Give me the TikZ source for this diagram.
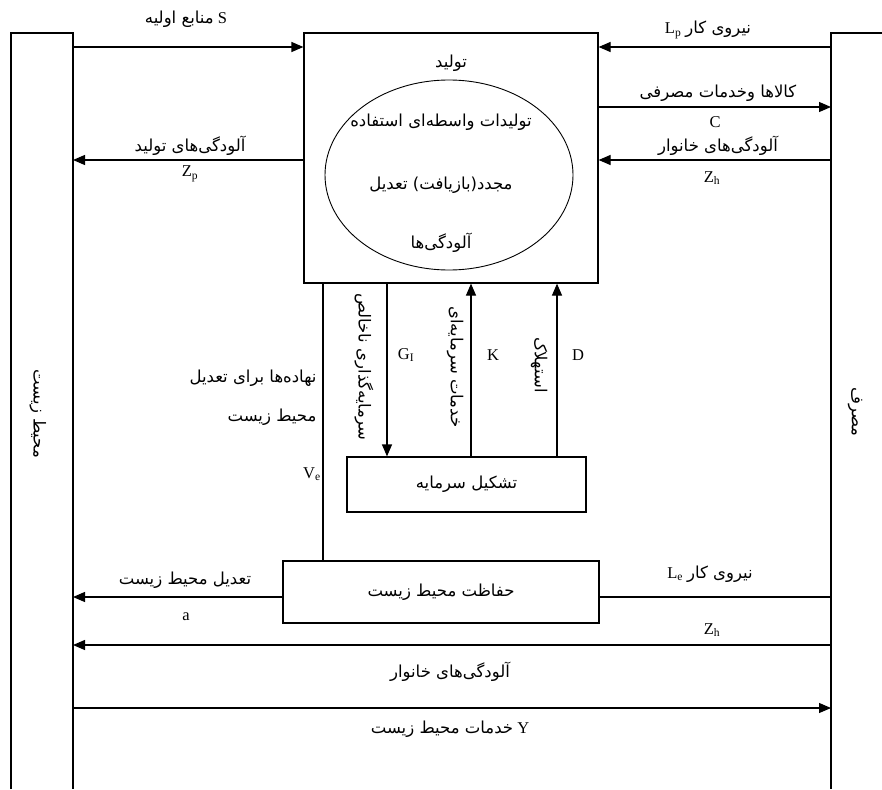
\documentclass[tikz,border=0pt]{standalone}
\usepackage{fontspec}
\setmainfont{Liberation Serif}
\newfontfamily\arfont[Script=Arabic]{DejaVu Sans}
\TeXXeTstate=1
\usetikzlibrary{arrows.meta,shapes.geometric}
\newcommand\fatext[1]{{\arfont\fontsize{16.5}{18}\selectfont\beginR #1\endR}}
\begin{document}
\begin{tikzpicture}[x=1pt,y=-1pt,line width=1.2pt,
  arr/.style={-{Triangle[length=12pt,width=10pt]}},
  lbl/.style={font=\fontsize{16.5}{18}\selectfont,inner sep=0pt},
  box/.style={draw,inner sep=0pt,font=\fontsize{16.5}{18}\selectfont}]
\useasboundingbox (0,0) rectangle (882,789);
% side columns
\coordinate (L) at (73,0);
\coordinate (R) at (831,0);
\draw (11,789) -- (11,33) -- (73,33) -- (73,789);
\draw (882,33) -- (831,33) -- (831,789);
\node[lbl,rotate=-90] (envT) at (38,414) {\fatext{محیط زیست}};
\node[lbl,rotate=-90] (consT) at (855,412) {\fatext{مصرف}};
% production
\node[box,minimum width=294pt,minimum height=250pt] (prod) at (451,158) {};
\node[lbl] (prodT) at (451,63) {\fatext{تولید}};
\node[draw,ellipse,line width=0.9pt,minimum width=248pt,minimum height=190pt] (ell) at (449,175) {};
\node[lbl] (e1) at (441,122) {\fatext{تولیدات واسطه‌ای استفاده}};
\node[lbl] (e2) at (441,185) {\fatext{مجدد(بازیافت) تعدیل}};
\node[lbl] (e3) at (441,243) {\fatext{آلودگی‌ها}};
% capital formation and protection
\node[box,minimum width=239pt,minimum height=55pt] (cap) at (466.5,484.5) {\fatext{تشکیل سرمایه}};
\node[box,minimum width=316pt,minimum height=62pt] (prot) at (441,592) {\fatext{حفاظت محیط زیست}};
% top flows
\draw[arr] (L |- 0,47) -- (prod.west |- 0,47);
\node[lbl] (sT) at (186,19) {\fatext{منابع اولیه}~S};
\draw[arr] (R |- 0,47) -- (prod.east |- 0,47);
\node[lbl] (lpT) at (708,30) {L\textsubscript{p}~\fatext{نیروی کار}};
\draw[arr] (prod.east |- 0,107) -- (R |- 0,107);
\node[lbl] (cT) at (718,93) {\fatext{کالاها وخدمات مصرفی}};
\node[lbl] (cL) at (715,122) {C};
\draw[arr] (R |- 0,160) -- (prod.east |- 0,160);
\node[lbl] (zhT) at (718,146) {\fatext{آلودگی‌های خانوار}};
\node[lbl] (zhL) at (712,178) {Z\textsubscript{h}};
\draw[arr] (prod.west |- 0,160) -- (L |- 0,160);
\node[lbl] (zpT) at (190,146) {\fatext{آلودگی‌های تولید}};
\node[lbl] (zpL) at (190,174) {Z\textsubscript{p}};
% middle verticals
\draw (prod.south -| 323,0) -- (prot.north -| 323,0);
\node[lbl] (v1) at (253,378) {\fatext{نهاده‌ها برای تعدیل}};
\node[lbl] (v2) at (272,417) {\fatext{محیط زیست}};
\node[lbl] (vL) at (312,474) {V\textsubscript{e}};
\draw[arr] (prod.south -| 387,0) -- (cap.north -| 387,0);
\node[lbl,rotate=-90] (gT) at (364,367) {\fatext{سرمایه‌گذاری ناخالص}};
\node[lbl] (gL) at (406,355) {G\textsubscript{I}};
\draw[arr] (cap.north -| 471,0) -- (prod.south -| 471,0);
\node[lbl,rotate=-90] (kT) at (455,367) {\fatext{خدمات سرمایه‌ای}};
\node[lbl] (kL) at (493,355) {K};
\draw[arr] (cap.north -| 557,0) -- (prod.south -| 557,0);
\node[lbl,rotate=-90] (dT) at (539,365) {\fatext{استهلاک}};
\node[lbl] (dL) at (578,355) {D};
% bottom flows
\draw[arr] (prot.west |- 0,597) -- (L |- 0,597);
\node[lbl] (aT) at (185,580) {\fatext{تعدیل محیط زیست}};
\node[lbl] (aL) at (186,617) {a};
\draw (R |- 0,597) -- (prot.east |- 0,597);
\node[lbl] (leT) at (710,574) {L\textsubscript{e}~\fatext{نیروی کار}};
\draw[arr] (R |- 0,645) -- (L |- 0,645);
\node[lbl] (zh2L) at (712,630) {Z\textsubscript{h}};
\node[lbl] (zh2T) at (450,672) {\fatext{آلودگی‌های خانوار}};
\draw[arr] (L |- 0,708) -- (R |- 0,708);
\node[lbl] (yT) at (450,729) {\fatext{خدمات محیط زیست}~Y};
\end{tikzpicture}
\end{document}
